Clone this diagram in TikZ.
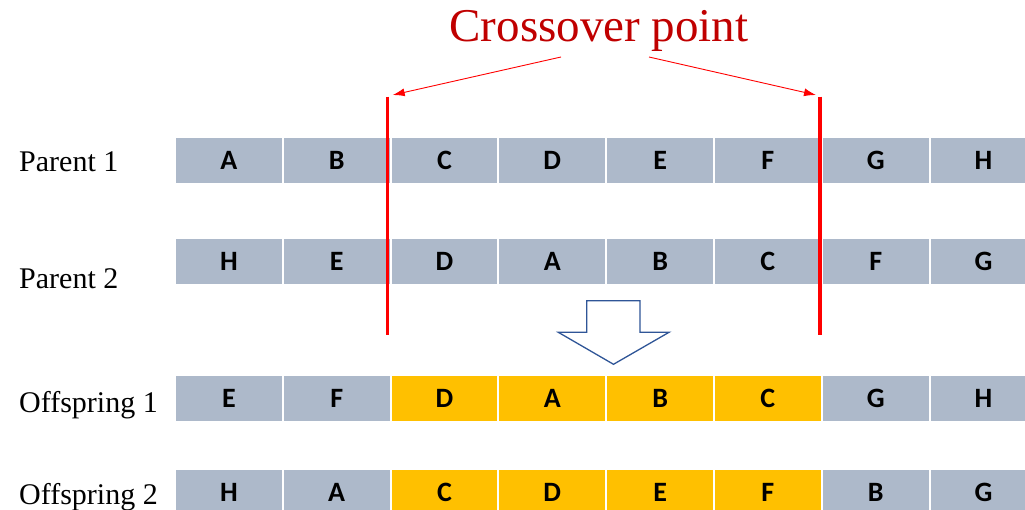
\documentclass[tikz,border=0pt]{standalone}
\usepackage{fontspec}
\setmainfont{Liberation Serif}
\newfontfamily\genefont{Carlito}
\usetikzlibrary{arrows.meta}
\definecolor{gris}{HTML}{ADB9CA}
\definecolor{jaune}{HTML}{FFC000}
\definecolor{rougefonce}{HTML}{C00000}
\definecolor{bleu}{HTML}{2F5597}

\begin{document}
\begin{tikzpicture}[x=1pt,y=-1pt]
\tikzset{
  gene/.style={fill=gris, minimum width=105.8pt, minimum height=45pt, inner sep=0pt,
    font=\genefont\bfseries\fontsize{28}{28}\selectfont},
  copie/.style={gene, fill=jaune},
  etiq/.style={anchor=base west, inner xsep=0pt, font=\fontsize{30}{30}\selectfont},
  coupe/.style={red, line width=3.5pt},
  fleche/.style={red, line width=0.9pt, -{Latex[length=12pt,width=8pt]}}
}
\useasboundingbox (0,0) rectangle (1025,510);

 % le titre et ses flèches
  \node[anchor=base, text=rougefonce, font=\fontsize{47}{47}\selectfont] (titre) at (599,42) {Crossover point};
  \coordinate (d1) at (561,57);
  \coordinate (d2) at (649,57);

 % les étiquettes
  \node[etiq] (lp1) at (19,172) {Parent 1};
  \node[etiq] (lp2) at (19,288.3) {Parent 2};
  \node[etiq] (lo1) at (19,412.3) {Offspring 1};
  \node[etiq] (lo2) at (19,504.3) {Offspring 2};

 % les gènes, une ligne par chromosome
  \foreach \g [count=\i] in {A,B,C,D,E,F,G,H}
    \node[gene] (p1-\i) at ({228.9+(\i-1)*107.8},160.2) {\g};
  \foreach \g [count=\i] in {H,E,D,A,B,C,F,G}
    \node[gene] (p2-\i) at ({228.9+(\i-1)*107.8},261.7) {\g};
  \foreach \g/\s [count=\i] in {E/gene,F/gene,D/copie,A/copie,B/copie,C/copie,G/gene,H/gene}
    \node[\s] (o1-\i) at ({228.9+(\i-1)*107.8},398.5) {\g};
  \foreach \g/\s [count=\i] in {H/gene,A/gene,C/copie,D/copie,E/copie,F/copie,B/gene,G/gene}
    \node[\s] (o2-\i) at ({228.9+(\i-1)*107.8},492.5) {\g};

 % points de croisement
  \coordinate (c1h) at (387.3,96.7);
  \coordinate (c1b) at (387.3,335);
  \coordinate (c2h) at (820,96.7);
  \coordinate (c2b) at (820,335);
  \draw[coupe] (c1h) -- (c1b);
  \draw[coupe] (c2h) -- (c2b);
  \coordinate (f1) at (392.7,95);
  \coordinate (f2) at (816,95);
  \draw[fleche] (d1) -- (f1);
  \draw[fleche] (d2) -- (f2);

 % la grosse flèche vers le bas
  \draw[bleu, line width=1.3pt, fill=white, line join=miter]
    (586.7,300.7) -- (640,300.7) -- (640,332.3) -- (669,332.3) -- (613.5,364.3)
    -- (558.3,332.3) -- (586.7,332.3) -- cycle;
\end{tikzpicture}
\end{document}
